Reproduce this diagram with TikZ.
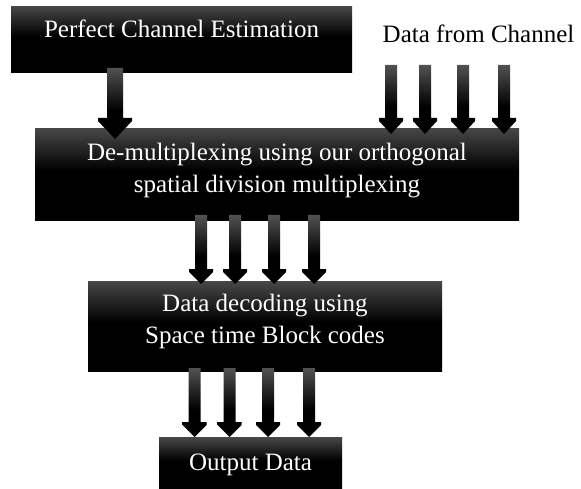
\documentclass[tikz,border=0pt]{standalone}
\usepackage{fontspec}
\setmainfont{Liberation Serif}
\pgfdeclareverticalshading{boxsh}{100bp}{color(0bp)=(black); color(25bp)=(black); color(52bp)=(black); color(75bp)=(black!72); color(100bp)=(black!72)}
\pgfdeclareverticalshading{arrsh}{100bp}{color(0bp)=(black); color(25bp)=(black); color(45bp)=(black); color(75bp)=(black!68); color(100bp)=(black!68)}
\tikzset{
  blk/.style={shade, shading=boxsh, draw=none, inner sep=0pt, anchor=north west},
  lbl/.style={font=\fontsize{25}{32}\selectfont, text=white, anchor=base, align=center, inner sep=0pt},
  plain/.style={font=\fontsize{25}{32}\selectfont, text=black, anchor=base, inner sep=0pt},
}
% cx, ytop, yhead, ytip, halfshaft, halfhead
\newcommand\blockarr[6]{%
  \shade[shading=arrsh] (#1-#5,#2) -- (#1+#5,#2) -- (#1+#5,#3) -- (#1+#6,#3) -- (#1+#6,#3+3)
    -- (#1,#4) -- (#1-#6,#3+3) -- (#1-#6,#3) -- (#1-#5,#3) -- cycle;}
\begin{document}
\begin{tikzpicture}[x=1pt,y=-1pt]
\useasboundingbox (0,0) rectangle (581,489);
% boxes
\node[blk, minimum width=341pt, minimum height=66pt] (est) at (11,6) {};
\node[blk, minimum width=484pt, minimum height=92pt] (demux) at (35,128) {};
\node[blk, minimum width=354pt, minimum height=90pt] (dec) at (88,281) {};
\node[blk, minimum width=183pt, minimum height=51pt] (out) at (159,437) {};
% arrows
\blockarr{115}{68}{118}{139}{8}{17}
\foreach \c in {391,425,463,504}{\blockarr{\c}{65}{118}{134}{6}{12}}
\foreach \c in {201,235,274,314}{\blockarr{\c}{215}{269}{284}{6}{12}}
\foreach \c in {194.5,229.5,268,309}{\blockarr{\c}{368}{422}{437}{6}{12}}
% texts
\node[lbl] (estT) at (181.5,38) {Perfect Channel Estimation};
\node[plain] (chan) at (478.5,43) {Data from Channel};
\node[lbl] (demuxT) at (277,193) {De-multiplexing using our orthogonal\\spatial division multiplexing};
\node[lbl] (decT) at (265,343) {Data decoding using\\Space time Block codes};
\node[lbl] (outT) at (250.5,470) {Output Data};
\end{tikzpicture}
\end{document}
